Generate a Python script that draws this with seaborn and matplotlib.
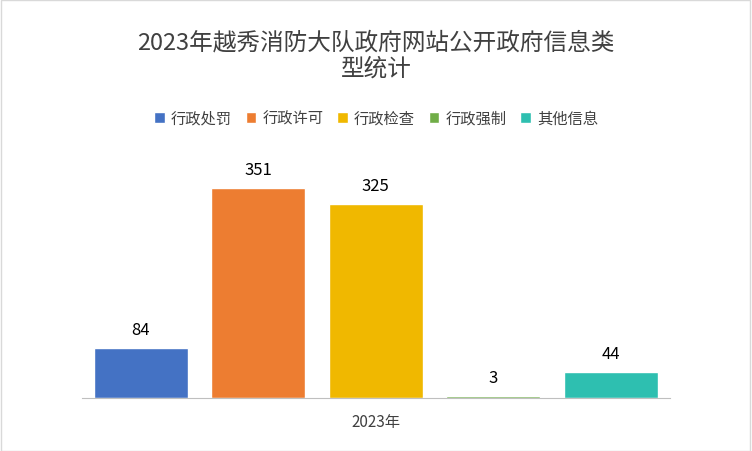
"""2023年越秀消防大队政府网站公开政府信息类型统计 - bar chart."""
import matplotlib
matplotlib.use('Agg')
import matplotlib.pyplot as plt
from matplotlib.patches import Patch, Rectangle
import seaborn as sns

categories = ['行政处罚', '行政许可', '行政检查', '行政强制', '其他信息']
counts = [84, 351, 325, 3, 44]
colors = ['#4472C4', '#ED7D31', '#F0B800', '#70AD47', '#2EBFB0']

sns.set_style('white')  # note: this resets the font family, so set fonts afterwards
plt.rcParams['font.family'] = 'sans-serif'
plt.rcParams['font.sans-serif'] = ['Noto Sans CJK SC', 'Noto Sans CJK JP', 'DejaVu Sans']

figure = plt.figure(figsize=(7.52, 4.52), dpi=100)
axes = figure.add_axes([82 / 752, 53 / 452, 587.5 / 752, 233 / 452])
sns.barplot(x=categories, y=counts, hue=categories, palette=colors,
            width=0.8, legend=False, ax=axes, saturation=1)
axes.set_ylim(0, 390)
axes.set_xlim(-0.5, 4.5)
axes.set(xlabel='', ylabel='', yticks=[], xticks=[])
for side in ['top', 'left', 'right']:
    axes.spines[side].set_visible(False)
axes.spines['bottom'].set_color('#BFBFBF')

# value labels above each bar
for i, value in enumerate(counts):
    axes.text(i, value + 17, str(value), ha='center', va='bottom',
              fontsize=12, color='#000000')

figure.text(376 / 752, 1 - 423 / 452, '2023年', ha='center', va='center',
            fontsize=11, color='#404040')
figure.text(376 / 752, 1 - 56 / 452,
            '2023年越秀消防大队政府网站公开政府信息类\n型统计',
            ha='center', va='center', fontsize=17, color='#404040',
            linespacing=1.15)

handles = [Patch(facecolor=c, label=n) for c, n in zip(colors, categories)]
figure.legend(handles=handles, loc='center', bbox_to_anchor=(376 / 752, 1 - 119 / 452),
              ncol=5, frameon=False, fontsize=11, handlelength=0.7,
              handleheight=0.7, handletextpad=0.4, columnspacing=0.9,
              labelcolor='#404040')

figure.patches.append(Rectangle((0.001, 0.001), 0.997, 0.997, transform=figure.transFigure,
                                fill=False, edgecolor='#D9D9D9', linewidth=1))
figure.savefig('out.png', dpi=100)
